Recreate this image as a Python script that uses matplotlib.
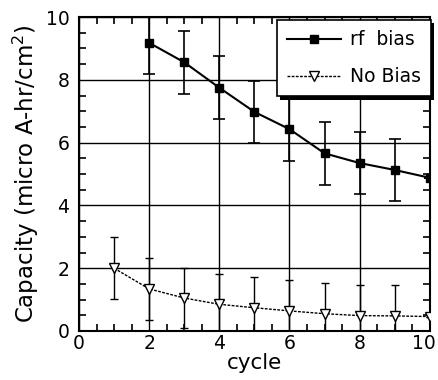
import matplotlib.pyplot as plt
from matplotlib.ticker import MultipleLocator
from matplotlib.lines import Line2D
from matplotlib.transforms import ScaledTranslation
import matplotlib.patheffects as pe

# ---------------------------------------------------------------------
# DATA
# ---------------------------------------------------------------------
rf_cycle = [2, 3, 4, 5, 6, 7, 8, 9, 10]
rf_cap   = [9.18, 8.56, 7.75, 6.98, 6.43, 5.66, 5.35, 5.13, 4.88]
rf_err   = [1.0, 1.0, 1.0, 0.98, 1.0, 1.0, 1.0, 0.98, 0.0]

nb_cycle = [1, 2, 3, 4, 5, 6, 7, 8, 9, 10]
nb_cap   = [2.0, 1.34, 1.05, 0.85, 0.74, 0.64, 0.55, 0.49, 0.48, 0.46]
nb_err   = [0.98, 1.0, 0.95, 0.95, 0.97, 0.97, 0.98, 0.97, 0.97, 0.0]

x_ticks = [0, 2, 4, 6, 8, 10]
y_ticks = [0, 2, 4, 6, 8, 10]
labels  = ["rf  bias", "No Bias"]

plt.rcParams['font.family'] = ['DejaVu Sans']

fig = plt.figure(figsize=(4.39, 3.8), dpi=100)
ax = fig.add_axes([0.18, 0.129, 0.799, 0.826])

ax.errorbar(rf_cycle, rf_cap, yerr=rf_err, color="black", lw=1.5,
            marker="s", ms=6, capsize=4, elinewidth=1.2, capthick=1.2,
            zorder=4)
ax.errorbar(nb_cycle, nb_cap, yerr=nb_err, color="black", lw=1.0, ls=(0, (2, 1)),
            marker="v", ms=7, mfc="white", mec="black", capsize=3,
            elinewidth=1.0, capthick=1.0, zorder=4)

ax.set_xlim(0, 10)
ax.set_ylim(0, 10)
ax.set_xticks(x_ticks)
ax.set_yticks(y_ticks)
ax.xaxis.set_minor_locator(MultipleLocator(0.5))
ax.yaxis.set_minor_locator(MultipleLocator(0.5))
ax.tick_params(which="both", direction="in", top=True, right=True,
               labelsize=13.5, width=1.2)
ax.tick_params(which="major", length=0)
ax.tick_params(axis="x", which="major", pad=2)
ax.tick_params(axis="y", which="major", pad=7)
ax.tick_params(which="minor", length=5)
ax.grid(True, which="major", color="black", lw=1.0)
for s in ax.spines.values():
    s.set_linewidth(1.5)

# keep the last x label ("10") inside the figure
last = ax.get_xticklabels()[-1]
last.set_transform(last.get_transform() + ScaledTranslation(-4 / 72, 0, fig.dpi_scale_trans))

ax.set_xlabel("cycle", fontsize=15.5, labelpad=0)
ax.set_ylabel("Capacity (micro A-hr/cm$^2$)", fontsize=16.5, labelpad=3)

# legend with hard black drop shadow
handles = [
    Line2D([], [], color="black", lw=1.5, marker="s", ms=6),
    Line2D([], [], color="black", lw=1.0, ls=(0, (2, 1)), marker="v", ms=7,
           mfc="white", mec="black"),
]
leg = ax.legend(handles, labels, loc="upper right",
                bbox_to_anchor=(431 / 439, 1 - 20 / 380),
                bbox_transform=fig.transFigure, borderaxespad=0,
                fontsize=13.5, fancybox=False, framealpha=1, edgecolor="black",
                handlelength=2.9, handletextpad=0.45, labelspacing=0.95,
                borderpad=0.55)
leg.get_frame().set_linewidth(1.2)
leg.get_frame().set_path_effects([
    pe.SimplePatchShadow(offset=(2.5, -2.5), shadow_rgbFace="black", alpha=1),
    pe.Normal(),
])
leg.set_zorder(5)

fig.savefig("out.png", dpi=100)
